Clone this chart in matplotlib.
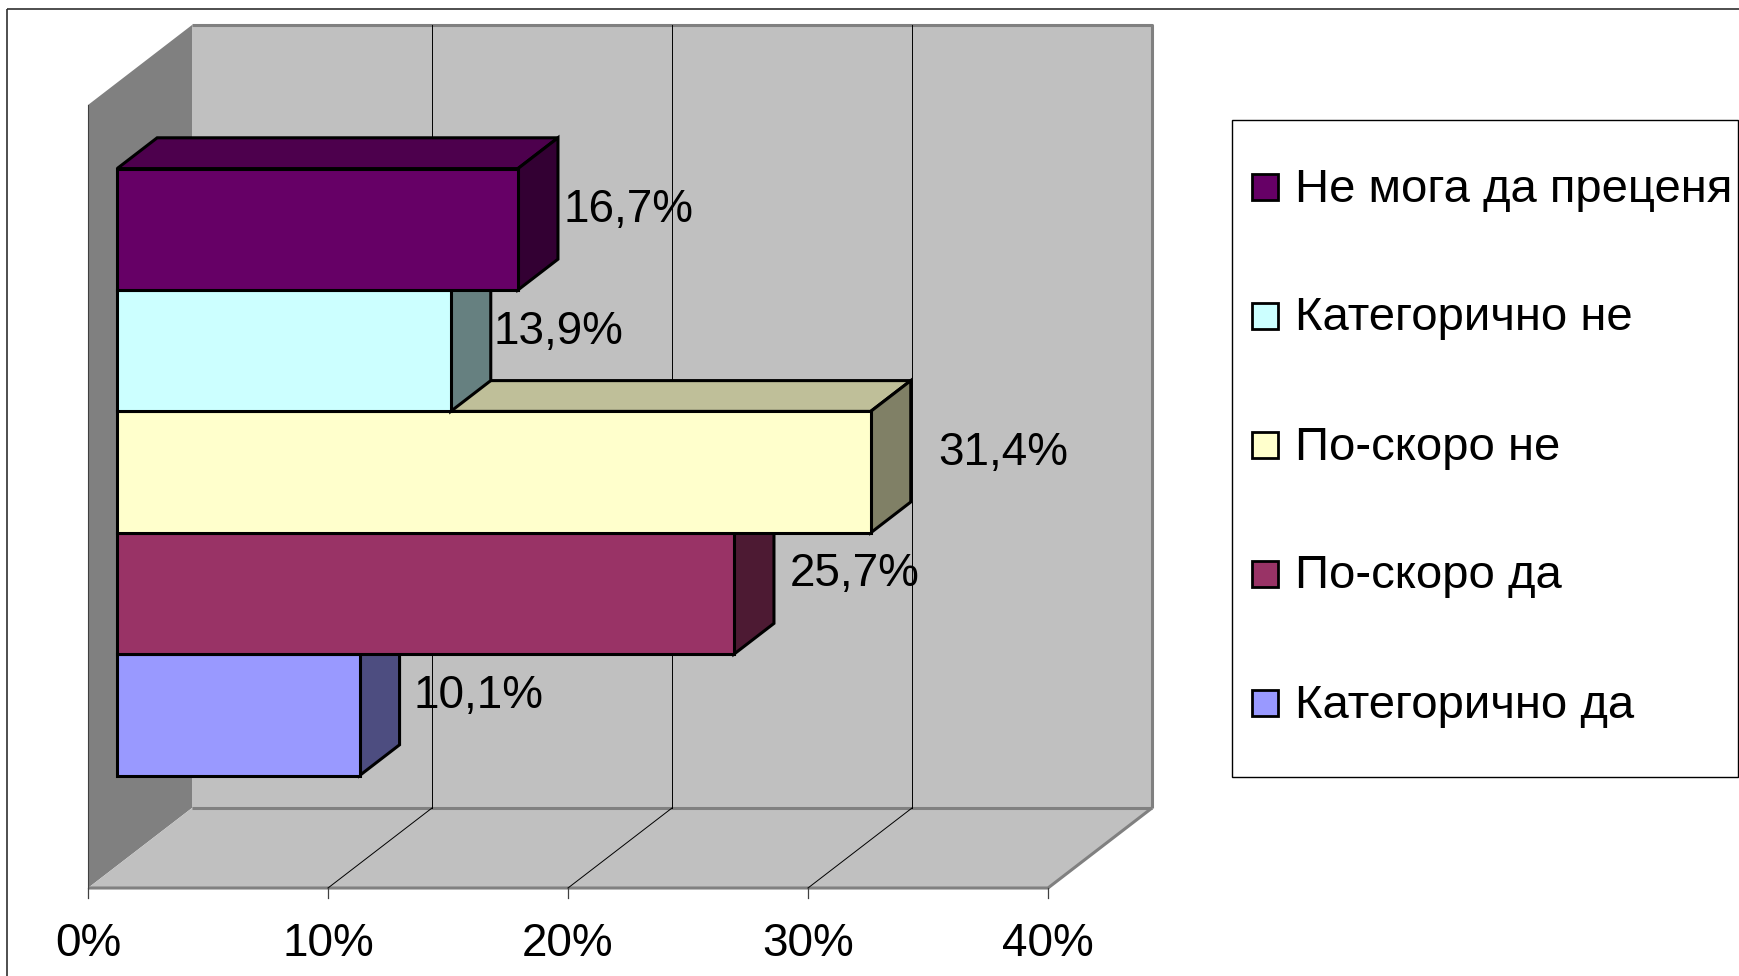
import matplotlib
matplotlib.use("Agg")
import matplotlib.pyplot as plt
from matplotlib.patches import Polygon, Rectangle
from matplotlib import colors as mcolors

plt.rcParams['font.family'] = ['Liberation Sans', 'DejaVu Sans']

# data (bottom to top, as drawn)
categories = ["Категорично да", "По-скоро да", "По-скоро не", "Категорично не", "Не мога да преценя"]
values = [10.1, 25.7, 31.4, 13.9, 16.7]
bar_colors = ['#9999FF', '#993366', '#FFFFCC', '#CCFFFF', '#660066']
ticks = [0, 10, 20, 30, 40]
tick_labels = ['0%', '10%', '20%', '30%', '40%']
label_gap_px = [14, 16, 27, 3, 6]

# geometry of the fake 3d box (pixel scale of the picture)
PX = 24.0        # pixels per percent
SL = 121.4       # pixels per bar slot
W, H = 1740, 976
X0, Y0 = 88, 888  # front origin in pixels
DX, DY = 104 / PX, 80 / SL       # full depth vector in data units
HT = (Y0 - 105) / SL             # front wall height
D0, DB = 0.28, 0.385             # bar depth start / thickness (fraction of depth)
GAP = (HT - len(values)) / 2 + 2 / SL
XMAX = 40


def shade(c, f):
    r, g, b = mcolors.to_rgb(c)
    return (r * f, g * f, b * f)


fig = plt.figure(figsize=(W / 100, H / 100), dpi=100)

# pixel axes for frame + legend
bg = fig.add_axes([0, 0, 1, 1])
bg.set_xlim(0, W)
bg.set_ylim(H, 0)
bg.axis('off')

# data axes
ax = fig.add_axes([0, 0, 1, 1])
ax.set_xlim(-X0 / PX, (W - X0) / PX)
ax.set_ylim(-(H - Y0) / SL, Y0 / SL)
ax.axis('off')
ax.patch.set_alpha(0)

bg.add_patch(Rectangle((7, 9), W + 20, H + 20, fill=False, edgecolor='#303030', lw=1.2))

# walls and floor
ax.add_patch(Polygon([(DX, DY), (XMAX + DX, DY), (XMAX + DX, HT + DY), (DX, HT + DY)],
                     closed=True, facecolor='#C0C0C0', edgecolor='none', zorder=1))
ax.add_patch(Polygon([(0, 0), (DX, DY), (DX, HT + DY), (0, HT)],
                     closed=True, facecolor='#808080', edgecolor='none', zorder=1))
ax.add_patch(Polygon([(0, 0), (XMAX, 0), (XMAX + DX, DY), (DX, DY)],
                     closed=True, facecolor='#C0C0C0', edgecolor='none', zorder=1))

# wall edges
edge_kw = dict(color='#808080', lw=2.2, zorder=2, solid_capstyle='butt')
ax.plot([DX, XMAX + DX, XMAX + DX], [HT + DY, HT + DY, DY], **edge_kw)
ax.plot([DX, XMAX + DX], [DY, DY], **edge_kw)
ax.plot([0, XMAX, XMAX + DX], [0, 0, DY], **edge_kw)
ax.plot([0, 0], [0, HT], color='#404040', lw=0.8, zorder=2)

# gridlines on back wall and floor
for t in ticks[1:-1]:
    ax.plot([t + DX, t + DX], [DY, HT + DY], color='black', lw=0.7, zorder=2)
    ax.plot([t, t + DX], [0, DY], color='black', lw=0.7, zorder=2)

# ticks and tick labels
for t, lab in zip(ticks, tick_labels):
    ax.plot([t, t], [0, -10 / SL], color='#404040', lw=0.9, zorder=2)
    ax.text(t, -(956 - Y0) / SL, lab, ha='center', va='baseline', fontsize=33)

# bars, bottom to top
bx, by = D0 * DX, D0 * DY
ddx, ddy = DB * DX, DB * DY
for i, (v, c) in enumerate(zip(values, bar_colors)):
    y0 = GAP + i + by
    y1 = y0 + 1
    x0 = bx
    x1 = bx + v
    kw = dict(closed=True, edgecolor='black', lw=2.2, joinstyle='miter', zorder=3 + i)
    ax.add_patch(Polygon([(x0, y1), (x1, y1), (x1 + ddx, y1 + ddy), (x0 + ddx, y1 + ddy)],
                         facecolor=shade(c, 0.75), **kw))
    ax.add_patch(Polygon([(x1, y0), (x1 + ddx, y0 + ddy), (x1 + ddx, y1 + ddy), (x1, y1)],
                         facecolor=shade(c, 0.5), **kw))
    ax.add_patch(Polygon([(x0, y0), (x1, y0), (x1, y1), (x0, y1)],
                         facecolor=c, **kw))
    lab = f"{v:.1f}".replace('.', ',') + '%'
    ax.text(x1 + ddx + label_gap_px[i] / PX, y0 + 0.5 + 7 / SL, lab,
            ha='left', va='baseline', fontsize=33, zorder=20)

# legend
bg.add_patch(Rectangle((1232, 120), 506, 657, facecolor='white', edgecolor='black', lw=1.0))
for k, i in enumerate(range(len(categories) - 1, -1, -1)):
    cy = 185 + k * 129
    bg.add_patch(Rectangle((1252, cy - 11), 26, 26, facecolor=bar_colors[i],
                           edgecolor='black', lw=2.0))
    bg.text(1295, cy + 16.5, categories[i], ha='left', va='baseline', fontsize=34)

fig.savefig('out.png', dpi=100)
